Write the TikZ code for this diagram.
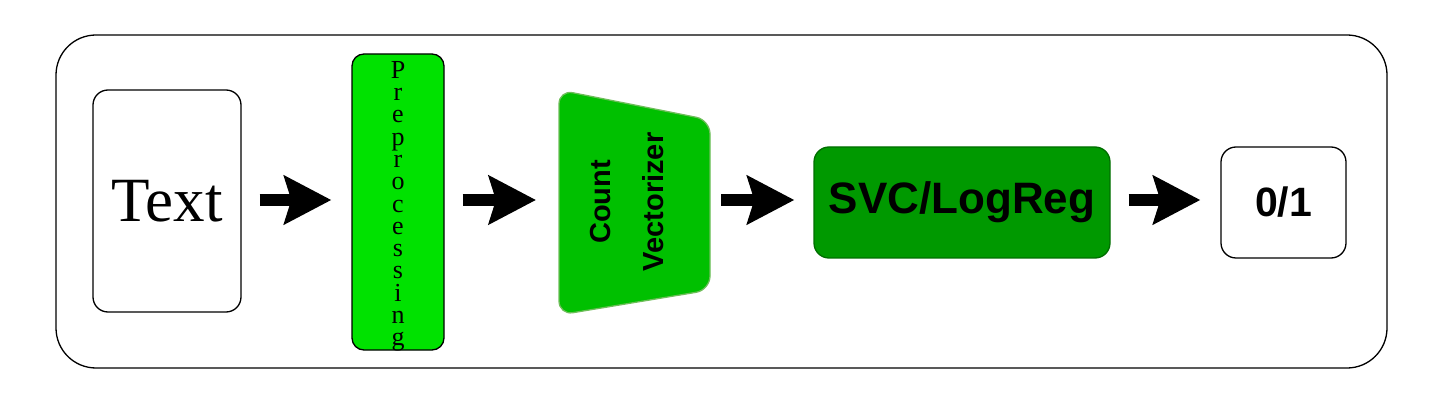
\documentclass[tikz,border=0pt]{standalone}
\usepackage{fontspec}
\setmainfont{Liberation Serif}
\setsansfont{Liberation Sans}
\usetikzlibrary{arrows.meta}
\definecolor{preg}{RGB}{0,226,0}
\definecolor{cvg}{RGB}{0,192,0}
\definecolor{cvb}{RGB}{110,190,90}
\definecolor{svcg}{RGB}{0,153,0}
\definecolor{svcb}{RGB}{0,110,0}
\newcommand\mytightlines{\fontsize{26}{22.3}\selectfont\setlength{\lineskiplimit}{-100pt}\setlength{\lineskip}{0pt}}
\begin{document}
\begin{tikzpicture}[x=1pt,y=-1pt,
  box/.style={draw=black,line width=1.3pt,rounded corners=15pt,inner sep=0pt},
  bigarrow/.style={line width=12pt,-{Stealth[length=47pt,width=48pt,inset=7pt]}}]
\useasboundingbox (0,0) rectangle (1445,403);
\draw[line width=1.3pt,rounded corners=40pt] (56,35) rectangle (1387,368);
\node[box,minimum width=148pt,minimum height=222pt,font=\fontsize{63}{65}\selectfont] (text) at (167,201) {Text};
\node[box,fill=preg,rounded corners=12pt,minimum width=92pt,minimum height=296pt] (pre) at (398,202) {};
\node[align=center,inner sep=0pt,anchor=north,font=\mytightlines] (pretxt) at (398,61) {P\\r\\e\\p\\r\\o\\c\\e\\s\\s\\i\\n\\g};
\draw[draw=cvb,fill=cvg,line width=1.3pt,rounded corners=14pt] (559,90) -- (710,120) -- (710,290) -- (559,315) -- cycle;
\coordinate (cvL) at (559,201);
\coordinate (cvR) at (710,201);
\node[rotate=90,font=\sffamily\bfseries\fontsize{29}{31}\selectfont,align=center,inner sep=0pt] (cv) at (627,202) {Count\\[22pt]Vectorizer};
\node[box,fill=svcg,draw=svcb,minimum width=296pt,minimum height=111pt,font=\sffamily\bfseries\fontsize{44}{46}\selectfont] (svc) at (962,202.5) {SVC/LogReg};
\node[box,minimum width=125pt,minimum height=111pt,font=\sffamily\bfseries\fontsize{41}{43}\selectfont] (out) at (1283.5,202.5) {0/1};
\draw[bigarrow,shorten <=18pt,shorten >=20pt] (text.east |- 0,200) -- (pre.west |- 0,200);
\draw[bigarrow,shorten <=18pt,shorten >=23pt] (pre.east |- 0,200) -- (cvL |- 0,200);
\draw[bigarrow,shorten <=11pt,shorten >=19pt] (cvR |- 0,200) -- (svc.west |- 0,200);
\draw[bigarrow,shorten <=18pt,shorten >=20pt] (svc.east |- 0,200) -- (out.west |- 0,200);
\end{tikzpicture}
\end{document}
